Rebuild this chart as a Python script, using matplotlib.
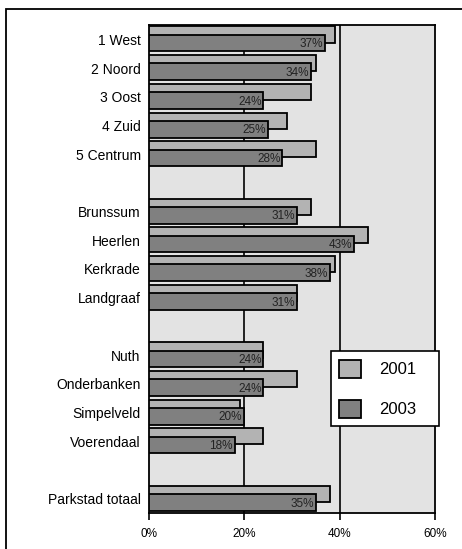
import numpy as np
import matplotlib.pyplot as plt
from matplotlib.patches import Rectangle

plt.rcParams['font.family'] = ['Liberation Sans', 'DejaVu Sans']

# Data (blank strings are the gaps between groups)
categories = ['1 West', '2 Noord', '3 Oost', '4 Zuid', '5 Centrum', '',
              'Brunssum', 'Heerlen', 'Kerkrade', 'Landgraaf', '',
              'Nuth', 'Onderbanken', 'Simpelveld', 'Voerendaal', '',
              'Parkstad totaal']
vals_2001 = [39, 35, 34, 29, 35, None,
             34, 46, 39, 31, None,
             24, 31, 19, 24, None,
             38]
vals_2003 = [37, 34, 24, 25, 28, None,
             31, 43, 38, 31, None,
             24, 24, 20, 18, None,
             35]
xticks = [0, 20, 40, 60]

fig = plt.figure(figsize=(4.62, 5.49), dpi=100)
ax = fig.add_axes([149/462, 36/549, 286/462, 488/549])
ax.set_facecolor('#e3e3e3')

n = len(categories)
y = np.arange(n)
idx = [i for i in range(n) if vals_2001[i] is not None]
v01 = [vals_2001[i] for i in idx]
v03 = [vals_2003[i] for i in idx]
yy = np.array(idx, dtype=float)

ax.barh(yy - 0.17, v01, height=0.56, color='#b3b3b3', edgecolor='black',
        linewidth=1.3, zorder=3, label='2001')
ax.barh(yy + 0.13, v03, height=0.58, color='#808080', edgecolor='black',
        linewidth=1.3, zorder=4, label='2003')

for yi, v in zip(yy, v03):
    ax.text(v - 0.4, yi + 0.17, f'{v}%', ha='right', va='center',
            fontsize=8.5, color='#222222', zorder=5)

ax.set_ylim(n - 0.5, -0.5)
ax.set_xlim(0, 60)
ax.set_yticks(y)
ax.set_yticklabels(categories, fontsize=10)
ax.tick_params(axis='y', length=0, pad=6)
ax.set_xticks(xticks)
ax.set_xticklabels([f'{t}%' for t in xticks], fontsize=8.5)
ax.tick_params(axis='x', length=5, width=1.2, direction='out', pad=6)

for t in [20, 40]:
    ax.axvline(t, color='black', linewidth=1.2, zorder=2)
for s in ax.spines.values():
    s.set_linewidth(1.3)
    s.set_color('black')

leg = ax.legend(loc='lower left', bbox_to_anchor=(0.636, 0.178, 0.378, 0.156),
                mode='expand', fontsize=12, frameon=True, fancybox=False,
                edgecolor='black', framealpha=1, handlelength=1.3,
                handleheight=1.3, borderpad=0.5, labelspacing=1.3,
                handletextpad=1.1, borderaxespad=0)
leg.get_frame().set_linewidth(1.2)
leg.set_zorder(6)

# outer border around the chart area
fig.patches.append(Rectangle((6/462, -0.05), 1.0, 1 - 9/549 + 0.05,
                             transform=fig.transFigure, fill=False,
                             edgecolor='black', linewidth=1.3))

fig.savefig('out.png', dpi=100)
